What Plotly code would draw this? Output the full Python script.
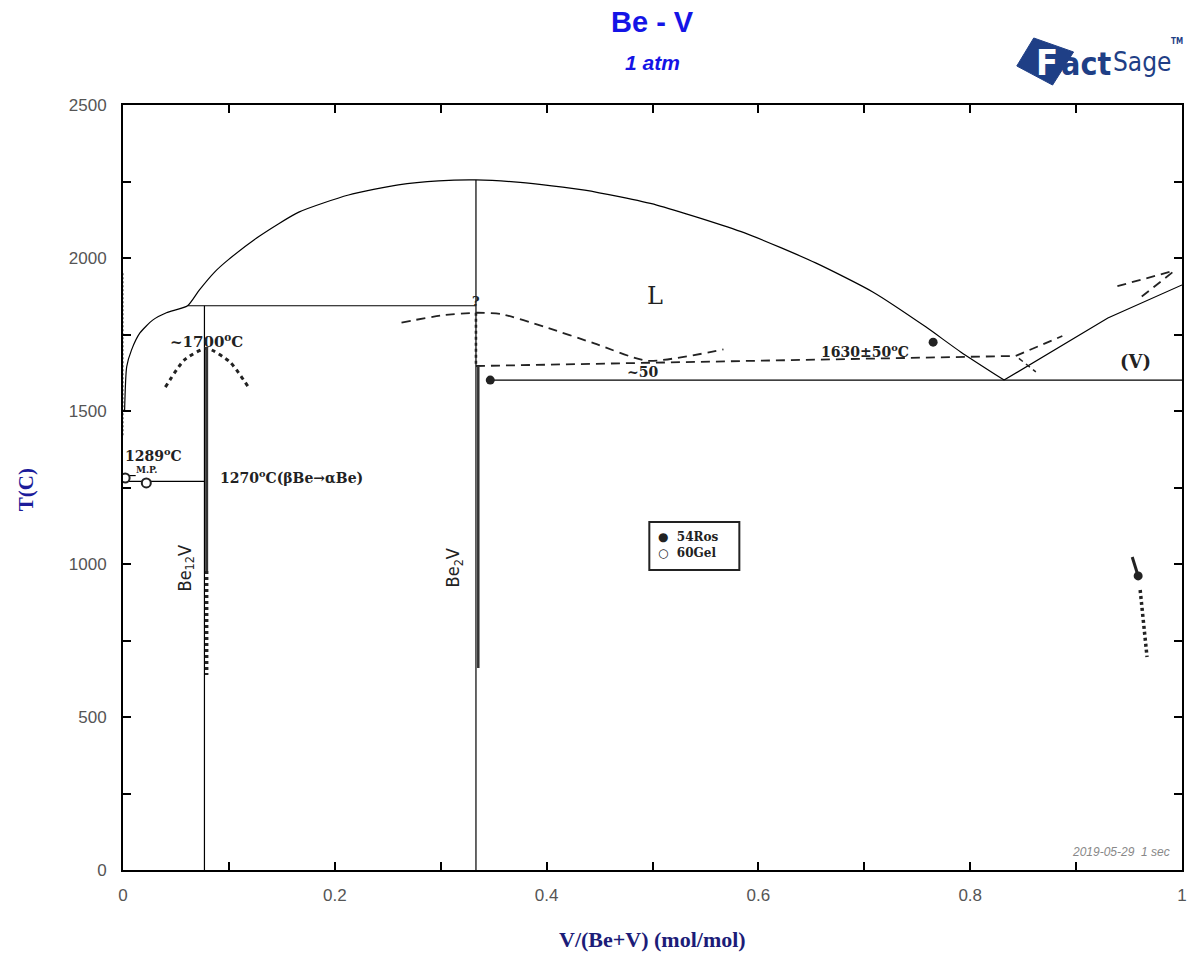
import plotly.graph_objects as go

# ---------------- data ----------------
# Calculated liquidus (FactSage)
liq_x = [0.0015, 0.0035, 0.008, 0.016, 0.028, 0.041, 0.061, 0.072, 0.0865, 0.099, 0.129, 0.166, 0.213,
         0.260, 0.298, 0.3333, 0.375, 0.436, 0.504, 0.587, 0.654, 0.708, 0.758, 0.791, 0.832]
liq_T = [1500, 1645, 1699, 1755, 1797, 1821, 1844, 1895, 1954, 1993, 2072, 2150, 2206,
         2239, 2252, 2255, 2247, 2222, 2173, 2082, 1984, 1889, 1775, 1693, 1601]
liqV_x = [0.832, 0.930, 1.0]
liqV_T = [1601, 1804, 1912]

# invariant lines
peri_x = [0.061, 0.3333]
peri_T = [1844, 1844]
eut_x = [0.345, 1.0]
eut_T = [1601, 1601]
be12v_x = [0.0769, 0.0769]
be12v_T = [1844, 0]
be2v_x = [0.3333, 0.3333]
be2v_T = [2255, 0]
trans_x = [0.0, 0.0769]
trans_T = [1270, 1270]
mp_x = [0.0, 0.012]
mp_T = [1289, 1289]

# scanned literature diagram overlay
ov_para_x = [0.040, 0.058, 0.079, 0.101, 0.119]
ov_para_T = [1578, 1667, 1705, 1660, 1575]
ov_liq_x = [0.263, 0.300, 0.3333, 0.357, 0.398, 0.445, 0.4953, 0.567]
ov_liq_T = [1789, 1812, 1821, 1817, 1775, 1721, 1664, 1701]
ov_eut_x = [0.3333, 0.843, 0.887]
ov_eut_T = [1647, 1680, 1745]
ov_tick_x = [0.846, 0.862]
ov_tick_T = [1672, 1628]
ov_v1_x = [0.939, 0.992]
ov_v1_T = [1908, 1958]
ov_v2_x = [0.962, 0.992]
ov_v2_T = [1874, 1956]
ov_be2v_dot_x = [0.3333, 0.3333]
ov_be2v_dot_T = [1821, 1647]
ov_be2v_x = [0.3355, 0.3355]
ov_be2v_T = [1647, 660]
ov_be12v_x = [0.079, 0.079]
ov_be12v_T = [1709, 977]
ov_be12v_dot_x = [0.079, 0.079]
ov_be12v_dot_T = [977, 637]
ov_vsol_x = [0.953, 0.9586]
ov_vsol_T = [1023, 961]
ov_vsol_dot_x = [0.9605, 0.967]
ov_vsol_dot_T = [915, 696]
ros_x = [0.765, 0.3468, 0.9586]
ros_T = [1725, 1601, 961]
gel_x = [0.002, 0.022]
gel_T = [1281, 1265]
noise_x = [0.0, 0.0]
noise_T = [1950, 1420]

x_ticks = [round(0.1 * i, 1) for i in range(11)]
x_ticktext = ["0", "", "0.2", "", "0.4", "", "0.6", "", "0.8", "", "1"]
y_ticks = [250 * i for i in range(11)]
y_ticktext = [str(v) if v % 500 == 0 else "" for v in y_ticks]

fig = go.Figure()

def line(x, y, width=1.2, dash="solid", color="black"):
    fig.add_trace(go.Scatter(x=x, y=y, mode="lines", hoverinfo="skip",
                             line=dict(color=color, width=width, dash=dash, shape="spline", smoothing=0.6)))

def straight(x, y, width=1.2, dash="solid", color="black"):
    fig.add_trace(go.Scatter(x=x, y=y, mode="lines", hoverinfo="skip",
                             line=dict(color=color, width=width, dash=dash)))

line(liq_x, liq_T)
straight(liqV_x, liqV_T)
straight(peri_x, peri_T)
straight(eut_x, eut_T, width=1.4)
straight(be12v_x, be12v_T)
straight(be2v_x, be2v_T)
straight(trans_x, trans_T)
straight(mp_x, mp_T)

line(ov_para_x, ov_para_T, width=3, dash="4px,4px", color="#222")
line(ov_liq_x, ov_liq_T, width=1.8, dash="9px,6px", color="#222")
straight(ov_eut_x[:2], ov_eut_T[:2], width=1.8, dash="9px,6px", color="#222")
straight(ov_eut_x[1:], ov_eut_T[1:], width=1.8, dash="9px,6px", color="#222")
straight(ov_tick_x, ov_tick_T, width=1.5, dash="5px,4px", color="#222")
straight(ov_v1_x, ov_v1_T, width=1.8, dash="9px,6px", color="#222")
straight(ov_v2_x, ov_v2_T, width=1.8, dash="9px,6px", color="#222")
straight(ov_be2v_dot_x, ov_be2v_dot_T, width=2.5, dash="3px,3px", color="#222")
straight(ov_be2v_x, ov_be2v_T, width=2.5, color="#333")
straight(ov_be12v_x, ov_be12v_T, width=3, color="#333")
straight(ov_be12v_dot_x, ov_be12v_dot_T, width=3.5, dash="3px,3px", color="#222")
straight(ov_vsol_x, ov_vsol_T, width=3, color="#222")
straight(ov_vsol_dot_x, ov_vsol_dot_T, width=3.5, dash="3px,3px", color="#222")
straight(noise_x, noise_T, width=2, dash="2px,2px", color="#999")

fig.add_trace(go.Scatter(x=ros_x, y=ros_T, mode="markers", hoverinfo="skip",
                         marker=dict(color="#222", size=9, symbol="circle")))
fig.add_trace(go.Scatter(x=gel_x, y=gel_T, mode="markers", hoverinfo="skip",
                         marker=dict(color="white", size=9, symbol="circle",
                                     line=dict(color="#222", width=2))))

# legend box of scanned diagram
fig.add_shape(type="rect", xref="x", yref="y", x0=0.497, x1=0.582, y0=980, y1=1137,
              line=dict(color="#222", width=2))

serif = "DejaVu Serif"
ann = [
    (0.502, 1876, "L", 24, "center", False),
    (0.956, 1662, "(V)", 18, "center", True),
    (0.701, 1697, "1630±50<sup>o</sup>C", 14, "center", True),
    (0.4906, 1626, "~50", 14, "center", True),
    (0.333, 1858, "?", 13, "center", True),
    (0.079, 1730, "~1700<sup>o</sup>C", 15, "center", True),
    (0.000, 1356, "1289<sup>o</sup>C", 14, "left", True),
    (0.010, 1306, "M.P.", 9, "left", True),
    (0.0893, 1285, "1270<sup>o</sup>C(βBe→αBe)", 14, "left", True),
    (0.503, 1088, "●  54Ros", 12, "left", True),
    (0.503, 1036, "○  60Gel", 12, "left", True),
]
for x, y, t, s, al, bold in ann:
    fig.add_annotation(x=x, y=y, xref="x", yref="y", text=f"<b>{t}</b>" if bold else t, showarrow=False,
                       xanchor=al, font=dict(family=serif, size=s, color="#222"))
for x, t in [(0.059, "Be<sub>12</sub>V"), (0.313, "Be<sub>2</sub>V")]:
    fig.add_annotation(x=x, y=987, xref="x", yref="y", text=t, showarrow=False, textangle=-90,
                       font=dict(family="DejaVu Sans Condensed, Liberation Sans Narrow, Arial", size=18, color="#222"))

# titles
fig.add_annotation(xref="paper", yref="paper", x=0.5, y=1, yshift=83, yanchor="middle",
                   text="<b>Be - V</b>", showarrow=False,
                   font=dict(family="Liberation Sans, Arial", size=29, color="#1414e6"))
fig.add_annotation(xref="paper", yref="paper", x=0.5, y=1, yshift=43, yanchor="middle",
                   text="<i><b>1 atm</b></i>", showarrow=False,
                   font=dict(family="Liberation Sans, Arial", size=21, color="#1414e6"))
fig.add_annotation(xref="paper", yref="paper", x=1, y=0, xanchor="right", yanchor="bottom",
                   xshift=-10, yshift=9, text="<i>2019-05-29  1 sec</i>", showarrow=False,
                   font=dict(family="Liberation Sans, Arial", size=12, color="#888"))
# axis titles
fig.add_annotation(xref="paper", yref="paper", x=0.5, y=-0.0915, yanchor="middle",
                   text="<b>V/(Be+V) (mol/mol)</b>", showarrow=False,
                   font=dict(family="Liberation Serif, Times New Roman", size=22, color="#1c1c78"))
fig.add_annotation(xref="paper", yref="paper", x=-0.0921, y=0.497, xanchor="center", yanchor="middle",
                   text="<b>T(C)</b>", showarrow=False, textangle=-90,
                   font=dict(family="Liberation Serif, Times New Roman", size=21, color="#1c1c9a"))

# FactSage logo (paper coords: x=(px-123)/1064, y=(870-py)/765)
def px(xp):
    return (xp - 123) / 1064

def py(yp):
    return (870 - yp) / 765

logo_path = "M {:.4f} {:.4f} L {:.4f} {:.4f} L {:.4f} {:.4f} L {:.4f} {:.4f} Z".format(
    px(1021), py(66), px(1038), py(38), px(1078), py(52), px(1057), py(85))
fig.add_shape(type="path", xref="paper", yref="paper", path=logo_path,
              fillcolor="#1f3f86", line=dict(color="#1f3f86", width=1))
fig.add_annotation(xref="paper", yref="paper", x=px(1051), y=py(63), yanchor="middle", xanchor="center",
                   text="<b>F</b>", showarrow=False,
                   font=dict(family="DejaVu Sans Condensed, Liberation Sans", size=36, color="white"))
fig.add_annotation(xref="paper", yref="paper", x=px(1063), y=py(64), yanchor="middle", xanchor="left",
                   text="<b>act</b>", showarrow=False,
                   font=dict(family="DejaVu Sans Condensed, Liberation Sans Narrow, Liberation Sans", size=32, color="#1f3f86"))
fig.add_annotation(xref="paper", yref="paper", x=px(1116), y=py(62), yanchor="middle", xanchor="left",
                   text="Sage", showarrow=False,
                   font=dict(family="DejaVu Sans Condensed, Liberation Sans Narrow, Liberation Sans", size=26, color="#1f3f86"))
fig.add_annotation(xref="paper", yref="paper", x=px(1174), y=py(41), yanchor="middle", xanchor="left",
                   text="<b>TM</b>", showarrow=False,
                   font=dict(family="DejaVu Sans Condensed, Liberation Sans", size=8, color="#1f3f86"))

axis_common = dict(showline=True, linecolor="black", linewidth=2, mirror="ticks",
                   ticks="inside", ticklen=8, tickwidth=1.5, tickcolor="black",
                   showgrid=False, zeroline=False,
                   tickfont=dict(family="Liberation Sans, Arial", size=17, color="#555"))
fig.update_layout(
    width=1191, height=955, autosize=False,
    margin=dict(l=123, r=4, t=105, b=85),
    plot_bgcolor="white", paper_bgcolor="white",
    showlegend=False,
    xaxis=dict(range=[0, 1], tickvals=x_ticks, ticktext=x_ticktext, ticklabelstandoff=9, **axis_common),
    yaxis=dict(range=[0, 2500], tickvals=y_ticks, ticktext=y_ticktext, ticklabelstandoff=11, **axis_common),
)

fig.write_html("out.html")
